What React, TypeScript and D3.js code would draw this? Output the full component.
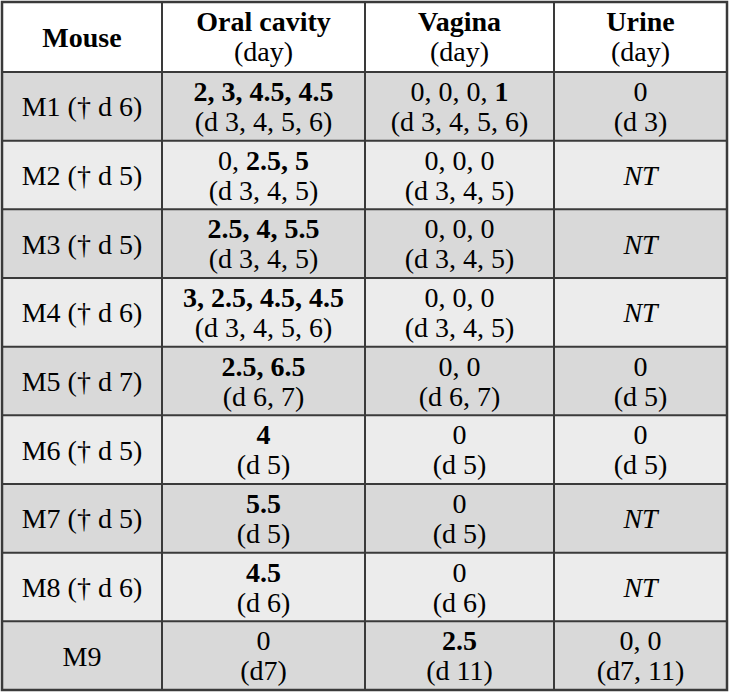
import React from 'react'
import * as d3 from 'd3'

const mice = ['M1 († d 6)', 'M2 († d 5)', 'M3 († d 5)', 'M4 († d 6)', 'M5 († d 7)', 'M6 († d 5)', 'M7 († d 5)', 'M8 († d 6)', 'M9']
const headers = ['Oral cavity', 'Vagina', 'Urine']

const oral = [[2, 3, 4.5, 4.5], [0, 2.5, 5], [2.5, 4, 5.5], [3, 2.5, 4.5, 4.5], [2.5, 6.5], [4], [5.5], [4.5], [0]]
const oralDays = ['d 3, 4, 5, 6', 'd 3, 4, 5', 'd 3, 4, 5', 'd 3, 4, 5, 6', 'd 6, 7', 'd 5', 'd 5', 'd 6', 'd7']

const vagina = [[0, 0, 0, 1], [0, 0, 0], [0, 0, 0], [0, 0, 0], [0, 0], [0], [0], [0], [2.5]]
const vaginaDays = ['d 3, 4, 5, 6', 'd 3, 4, 5', 'd 3, 4, 5', 'd 3, 4, 5', 'd 6, 7', 'd 5', 'd 5', 'd 6', 'd 11']

const urine = [[0], null, null, null, [0], [0], null, null, [0, 0]]
const urineDays = ['d 3', null, null, null, 'd 5', 'd 5', null, null, 'd7, 11']

const W = 731
const H = 694
const colEdges = [2, 162, 365, 554, 727]
const top = 2
const headBottom = 72
const bottom = 690
const FS = 28
const font = '"Liberation Serif", "Times New Roman", serif'
const lineColor = '#3a3a3a'

const rowScale = d3.scaleBand<string>().domain(mice).range([headBottom, bottom]).padding(0)

const colCenter = (i: number) => (colEdges[i] + colEdges[i + 1]) / 2

// values: zero plain, positives bold, comma goes with the value before it
const valueLine = (vals: number[]) =>
  vals.map((v, i) => (
    <tspan key={i} fontWeight={v > 0 ? 'bold' : 'normal'}>
      {d3.format('')(v) + (i < vals.length - 1 ? ', ' : '')}
    </tspan>
  ))

const App = () => {
  const sites = [
    { vals: oral, days: oralDays },
    { vals: vagina, days: vaginaDays },
    { vals: urine, days: urineDays },
  ]
  const bh = rowScale.bandwidth()

  return (
    <svg width={W} height={H} style={{ position: 'absolute', left: 0, top: 0, background: '#fff' }} fontFamily={font} fontSize={FS}>
      {/* row backgrounds */}
      {mice.map((m, i) => (
        <rect key={m} x={colEdges[0]} y={rowScale(m)} width={colEdges[4] - colEdges[0]} height={bh}
          fill={i % 2 === 0 ? '#d9d9d9' : '#ececec'} />
      ))}

      {/* header */}
      <text x={colCenter(0)} y={(top + headBottom) / 2 + 10} textAnchor="middle" fontWeight="bold">Mouse</text>
      {headers.map((h, j) => (
        <g key={h}>
          <text x={colCenter(j + 1)} y={top + 29} textAnchor="middle" fontWeight="bold">{h}</text>
          <text x={colCenter(j + 1)} y={top + 59} textAnchor="middle">(day)</text>
        </g>
      ))}

      {/* body */}
      {mice.map((m, i) => {
        const y0 = rowScale(m) as number
        return (
          <g key={m}>
            <text x={colCenter(0)} y={y0 + bh / 2 + 10} textAnchor="middle">{m}</text>
            {sites.map((s, j) => {
              const v = s.vals[i]
              const d = s.days[i]
              if (!v) {
                return (
                  <text key={j} x={colCenter(j + 1)} y={y0 + bh / 2 + 10} textAnchor="middle" fontStyle="italic">NT</text>
                )
              }
              return (
                <g key={j}>
                  <text x={colCenter(j + 1)} y={y0 + 29} textAnchor="middle">{valueLine(v)}</text>
                  <text x={colCenter(j + 1)} y={y0 + 59} textAnchor="middle">({d})</text>
                </g>
              )
            })}
          </g>
        )
      })}

      {/* grid lines */}
      {[headBottom, ...mice.slice(1).map((m) => rowScale(m) as number)].map((y, i) => (
        <line key={'h' + i} x1={colEdges[0]} x2={colEdges[4]} y1={y} y2={y} stroke={lineColor} strokeWidth={2} />
      ))}
      {colEdges.slice(1, 4).map((x, i) => (
        <line key={'v' + i} x1={x} x2={x} y1={top} y2={bottom} stroke={lineColor} strokeWidth={2} />
      ))}
      <rect x={colEdges[0]} y={top} width={colEdges[4] - colEdges[0]} height={bottom - top}
        fill="none" stroke={lineColor} strokeWidth={2.5} />
    </svg>
  )
}

export default App
